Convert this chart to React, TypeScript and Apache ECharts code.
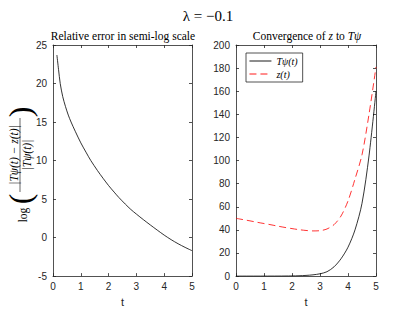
import React, { useEffect, useRef } from "react";
import * as echarts from "echarts";

// Left panel: relative error (semi-log)
const tErr = [0.14, 0.2, 0.26, 0.35, 0.45, 0.55, 0.65, 0.8, 1.0, 1.2, 1.36, 1.6, 1.8, 2.0, 2.2, 2.37, 2.6, 2.8, 3.0, 3.25, 3.5, 3.75, 4.0, 4.25, 4.5, 4.75, 5.0];
const relErr = [23.7, 21.8, 20.0, 18.3, 17.0, 15.9, 15.0, 13.8, 12.3, 11.0, 10.0, 8.7, 7.7, 6.75, 5.9, 5.2, 4.35, 3.65, 3.05, 2.33, 1.64, 0.97, 0.32, -0.27, -0.8, -1.27, -1.7];

// Right panel: convergence of z to Tpsi
const tConv = [0, 0.25, 0.5, 0.75, 1, 1.25, 1.5, 1.75, 2, 2.25, 2.5, 2.75, 3, 3.25, 3.5, 3.75, 4, 4.25, 4.5, 4.75, 5];
const tpsiVals = [0, 0, 0, 0, 0.01, 0.02, 0.04, 0.08, 0.15, 0.3, 0.6, 1.1, 2, 3.8, 8, 15, 25, 40, 63, 104, 160];
const zVals = [50, 48.9, 47.8, 46.6, 45.5, 44.4, 43.2, 42.1, 41.1, 40.2, 39.5, 39.1, 39.3, 40.8, 44.5, 52, 65, 84, 105, 140, 181];

const seriesNames = ["Tψ(t)", "z(t)"];
const mainTitle = "λ = −0.1";
const leftTitle = "Relative error in semi-log scale";
const rightTitle = "Convergence of {i|z} to {i|Tψ}";
const xName = "t";

const AX = "#262626";
const SANS = "'Liberation Sans', Arial, sans-serif";
const SERIF = "'Liberation Serif', 'DejaVu Serif', serif";

function frameAxis(gridIndex: number, kind: "x" | "y", min: number, max: number, interval: number) {
  return {
    gridIndex,
    type: "value",
    min,
    max,
    interval,
    position: kind === "x" ? "top" : "right",
    axisLine: { show: true, onZero: false, lineStyle: { color: AX, width: 0.8 } },
    axisTick: { show: true, inside: true, length: 3, lineStyle: { color: AX, width: 0.8 } },
    axisLabel: { show: false },
    splitLine: { show: false },
  };
}

export default function App() {
  const ref = useRef<HTMLDivElement>(null);
  useEffect(() => {
    if (!ref.current) return;
    const chart = echarts.init(ref.current, null, { renderer: "svg" });
    const axisLabel = { color: AX, fontFamily: SANS, fontSize: 10, margin: 5 };
    const xMain = (gi: number) => ({
      gridIndex: gi,
      type: "value",
      min: 0,
      max: 5,
      interval: 1,
      position: "bottom",
      name: xName,
      nameLocation: "middle",
      nameGap: 19,
      nameTextStyle: { color: AX, fontFamily: SANS, fontSize: 11 },
      axisLine: { show: true, onZero: false, lineStyle: { color: AX, width: 0.8 } },
      axisTick: { show: true, inside: true, length: 3, lineStyle: { color: AX, width: 0.8 } },
      axisLabel,
      splitLine: { show: false },
    });
    const yMain = (gi: number, min: number, max: number, interval: number) => ({
      gridIndex: gi,
      type: "value",
      min,
      max,
      interval,
      position: "left",
      axisLine: { show: true, onZero: false, lineStyle: { color: AX, width: 0.8 } },
      axisTick: { show: true, inside: true, length: 3, lineStyle: { color: AX, width: 0.8 } },
      axisLabel: { ...axisLabel, margin: 6 },
      splitLine: { show: false },
    });

    chart.setOption({
      animation: false,
      backgroundColor: "#fff",
      grid: [
        { left: 53, top: 45, width: 139, height: 234 },
        { left: 236, top: 45, width: 140, height: 234 },
      ],
      xAxis: [xMain(0), xMain(1), frameAxis(0, "x", 0, 5, 1), frameAxis(1, "x", 0, 5, 1)],
      yAxis: [
        yMain(0, -5, 25, 5),
        yMain(1, 0, 200, 20),
        frameAxis(0, "y", -5, 25, 5),
        frameAxis(1, "y", 0, 200, 20),
      ],
      legend: {
        data: seriesNames,
        orient: "vertical",
        left: 246,
        top: 53,
        itemWidth: 22,
        itemHeight: 8,
        itemGap: 3,
        padding: [3, 5, 3, 3],
        borderColor: AX,
        borderWidth: 0.8,
        borderRadius: 0,
        backgroundColor: "#fff",
        itemStyle: { opacity: 0 },
        lineStyle: { width: 0.9 },
        textStyle: { fontFamily: SERIF, fontStyle: "italic", fontSize: 10, color: "#000" },
      },
      series: [
        {
          type: "line",
          xAxisIndex: 0,
          yAxisIndex: 0,
          data: tErr.map((t, i) => [t, relErr[i]]),
          symbol: "none",
          smooth: 0.3,
          lineStyle: { color: "#000", width: 0.8 },
        },
        {
          name: seriesNames[0],
          type: "line",
          xAxisIndex: 1,
          yAxisIndex: 1,
          data: tConv.map((t, i) => [t, tpsiVals[i]]),
          symbol: "none",
          smooth: 0.3,
          itemStyle: { color: "#000" },
          lineStyle: { color: "#000", width: 0.8 },
        },
        {
          name: seriesNames[1],
          type: "line",
          xAxisIndex: 1,
          yAxisIndex: 1,
          data: tConv.map((t, i) => [t, zVals[i]]),
          symbol: "none",
          smooth: 0.3,
          itemStyle: { color: "#ff0000" },
          lineStyle: { color: "#ff0000", width: 0.8, type: [7, 4] },
        },
      ],
      graphic: [
        {
          type: "text",
          x: 208,
          y: 16,
          style: { text: mainTitle, font: `15px ${SERIF}`, fill: "#000", align: "center", verticalAlign: "middle" },
        },
        {
          type: "text",
          x: 123,
          y: 36,
          style: { text: leftTitle, font: `11.5px ${SERIF}`, fill: "#000", align: "center", verticalAlign: "middle" },
        },
        {
          type: "text",
          x: 307,
          y: 36,
          style: {
            text: rightTitle,
            font: `11.5px ${SERIF}`,
            fill: "#000",
            align: "center",
            verticalAlign: "middle",
            rich: { i: { fontStyle: "italic", fontFamily: SERIF, fontSize: 11.5 } },
          },
        },
        {
          type: "group",
          x: 20,
          y: 162,
          rotation: Math.PI / 2,
          children: [
            { type: "text", x: -53, y: 3, style: { text: "log", font: `11.5px ${SERIF}`, fill: "#000", align: "center", verticalAlign: "middle" } },
            { type: "text", x: -37, y: 0, style: { text: "(", font: `32px ${SERIF}`, fill: "#000", align: "center", verticalAlign: "middle" } },
            { type: "text", x: 7, y: -6, style: { text: "|Tψ(t) − z(t)|", font: `italic 11.5px ${SERIF}`, fill: "#000", align: "center", verticalAlign: "middle" } },
            { type: "line", shape: { x1: -30, y1: 0, x2: 44, y2: 0 }, style: { stroke: "#000", lineWidth: 0.6 } },
            { type: "text", x: 7, y: 7, style: { text: "|Tψ(t)|", font: `italic 11.5px ${SERIF}`, fill: "#000", align: "center", verticalAlign: "middle" } },
            { type: "text", x: 50, y: 0, style: { text: ")", font: `32px ${SERIF}`, fill: "#000", align: "center", verticalAlign: "middle" } },
          ],
        },
      ],
    });
    return () => chart.dispose();
  }, []);
  return <div ref={ref} style={{ position: "fixed", left: 0, top: 0, width: 415, height: 312 }} />;
}
